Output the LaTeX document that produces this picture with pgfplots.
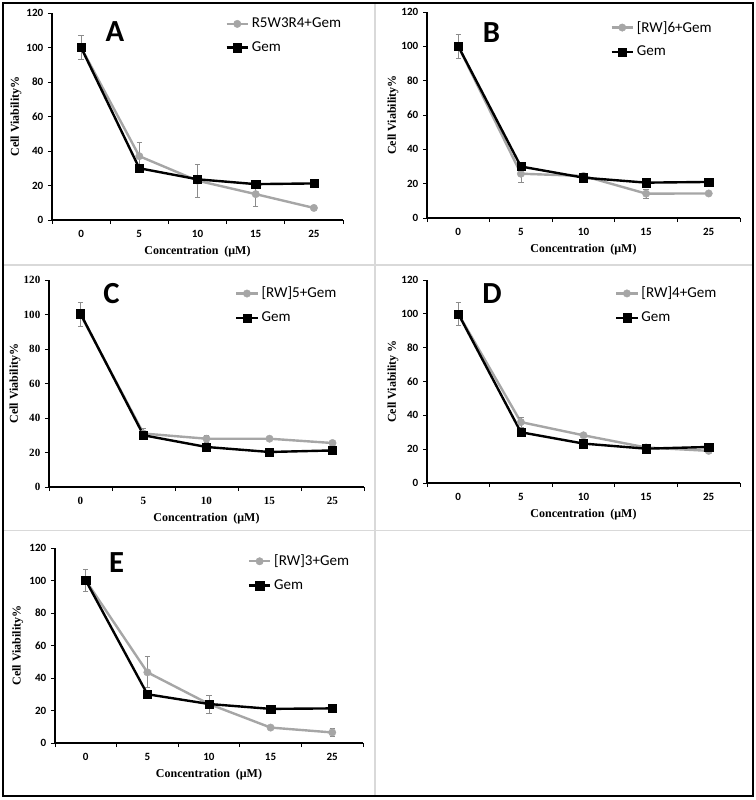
\documentclass[border=0pt]{standalone}
\usepackage{fontspec}
\setmainfont{Liberation Serif}
\newfontfamily\carl{Carlito}
\usepackage{pgfplots}
\pgfplotsset{compat=1.18}
\definecolor{lgray}{HTML}{A6A6A6}
\definecolor{ebar}{HTML}{8C8C8C}
\definecolor{divider}{HTML}{D9D9D9}
\pgfplotsset{
  panel/.style={
    scale only axis,
    anchor=south west,
    xmin=-0.5, xmax=4.5, ymin=0, ymax=120,
    axis lines*=left,
    axis line style={black, line width=0.9pt},
    tick align=outside,
    tick style={black, line width=0.7pt},
    major tick length=3pt,
    ytick={0,20,...,120},
    xtick={-0.5,0.5,...,4.5},
    xticklabels={},
    extra x ticks={0,1,2,3,4},
    extra x tick labels={0,5,10,15,25},
    extra x tick style={major tick length=0pt, tick style={draw=none}},
    /pgf/number format/assume math mode=true,
    ticklabel style={font=\carl\bfseries\fontsize{8.3}{9}\selectfont},
    xticklabel style={yshift=-4pt},
    xlabel={\bfseries Concentration\ \ (μM)},
    xlabel style={font=\fontsize{9}{10}\selectfont, at={(axis description cs:0.5,0)}, anchor=center, yshift=-23.5pt},
    ylabel={\bfseries Cell Viability\%},
    ylabel style={font=\fontsize{9}{10}\selectfont, at={(axis description cs:0,0.5)}, anchor=center},
    legend style={draw=none, fill=none, anchor=north west,
      font=\carl\fontsize{11.3}{13}\selectfont, row sep=5pt,
      inner sep=0pt, cells={anchor=west}},
    legend image code/.code={\draw[mark repeat=2,mark phase=2] plot coordinates {(0pt,0pt) (8pt,0pt) (16pt,0pt)};},
    clip=false,
  },
  gline/.style={color=lgray, line width=1.8pt, mark=*, mark size=2.8pt,
    mark options={fill=lgray, draw=lgray, line width=0.3pt},
    error bars/.cd, y dir=both, y explicit,
    error bar style={ebar, line width=0.6pt},
    error mark options={ebar, rotate=90, mark size=2pt, line width=0.6pt}},
  bline/.style={color=black, line width=1.8pt, mark=square*, mark size=3.1pt,
    mark options={fill=black, line width=0.3pt}},
}
\begin{document}
\begin{tikzpicture}[x=0.75pt, y=-0.75pt]
\path (0,0) rectangle (756,800);
\draw[divider, line width=0.9pt] (375,3) -- (375,796);
\draw[divider, line width=0.9pt] (3,265) -- (753,265);
\draw[divider, line width=0.9pt] (3,530.5) -- (753,530.5);
\draw[black, line width=1.8pt] (3,3) rectangle (753,796);
\coordinate (pA) at (52,220);
\coordinate (pB) at (427,218);
\coordinate (pC) at (49,487);
\coordinate (pD) at (427,483);
\coordinate (pE) at (55,743);
% Panel A
\begin{axis}[panel, at={(pA)}, width=218.25pt, height=155.25pt,
  ylabel style={yshift=27pt},
  legend style={at={(0.595,0.99)}}]
\addplot+[gline] table[x=x, y=y, y error=e] {
x y e
0 100 7
1 37 8
2 22.8 9.5
3 15 7
4 7 0
};
\addlegendentry{R5W3R4+Gem}
\addplot+[bline] table[x=x, y=y] {
x y
0 100
1 30
2 23.6
3 20.8
4 21.2
};
\addlegendentry{Gem}
\node[font=\carl\bfseries\fontsize{23}{26}\selectfont] at (axis cs:0.58,109) {A};
\end{axis}
% Panel B
\begin{axis}[panel, at={(pB)}, width=234.75pt, height=154.5pt,
  ylabel style={yshift=25.5pt},
  legend style={at={(0.585,0.97)}}]
\addplot+[gline] table[x=x, y=y, y error=e] {
x y e
0 100 7
1 25.8 5
2 24.5 1.5
3 14.2 2.5
4 14.3 0
};
\addlegendentry{[RW]6+Gem}
\addplot+[bline] table[x=x, y=y] {
x y
0 100
1 30
2 23.5
3 20.6
4 21
};
\addlegendentry{Gem}
\node[font=\carl\bfseries\fontsize{23}{26}\selectfont] at (axis cs:0.53,108) {B};
\end{axis}
% Panel C
\begin{axis}[panel, at={(pC)}, width=236.25pt, height=155.25pt,
  ylabel style={yshift=25.5pt},
  ticklabel style={font=\bfseries\fontsize{8.3}{9}\selectfont},
  legend style={at={(0.59,0.98)}}]
\addplot+[gline] table[x=x, y=y, y error=e] {
x y e
0 100 7
1 31 3
2 28 2
3 28 0.8
4 25.5 1
};
\addlegendentry{[RW]5+Gem}
\addplot+[bline] table[x=x, y=y] {
x y
0 100.5
1 30
2 23.2
3 20.3
4 21.2
};
\addlegendentry{Gem}
\node[font=\carl\bfseries\fontsize{23}{26}\selectfont] at (axis cs:0.49,112) {C};
\end{axis}
% Panel D
\begin{axis}[panel, at={(pD)}, width=234.75pt, height=152.25pt,
  ylabel={\bfseries Cell Viability \%},
  ylabel style={yshift=25.5pt},
  legend style={at={(0.60,0.98)}}]
\addplot+[gline] table[x=x, y=y, y error=e] {
x y e
0 100 7
1 36 3
2 28.2 0.5
3 21 1
4 19 1
};
\addlegendentry{[RW]4+Gem}
\addplot+[bline] table[x=x, y=y] {
x y
0 100
1 30
2 23.3
3 20.3
4 21.3
};
\addlegendentry{Gem}
\node[font=\carl\bfseries\fontsize{23}{26}\selectfont] at (axis cs:0.54,112) {D};
\end{axis}
% Panel E
\begin{axis}[panel, at={(pE)}, width=231pt, height=146.25pt,
  ylabel style={yshift=28pt},
  legend style={at={(0.625,0.98)}}]
\addplot+[gline] table[x=x, y=y, y error=e] {
x y e
0 100 7
1 43.5 9.5
2 24 5.5
3 9.5 1
4 6.5 2.5
};
\addlegendentry{[RW]3+Gem}
\addplot+[bline] table[x=x, y=y] {
x y
0 100
1 30
2 24
3 21
4 21.3
};
\addlegendentry{Gem}
\node[font=\carl\bfseries\fontsize{23}{26}\selectfont] at (axis cs:0.5,111) {E};
\end{axis}
\end{tikzpicture}
\end{document}
